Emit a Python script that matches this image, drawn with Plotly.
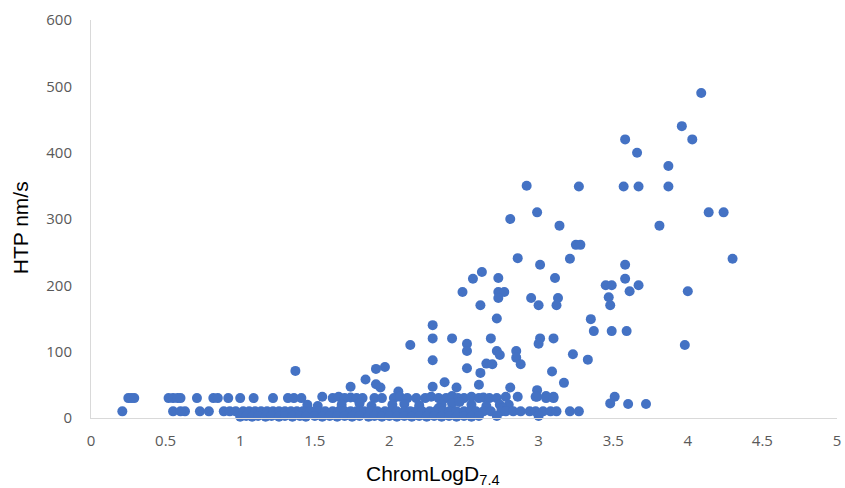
import plotly.graph_objects as go

# Upper / scattered points (ChromLogD7.4, HTP nm/s)
x_upper = [4.09, 3.96, 4.03, 3.58, 3.66, 3.87, 3.27, 3.57, 3.67, 3.87, 4.14, 4.24,
           3.14, 3.81, 3.25, 3.28, 3.21, 4.30, 3.58, 3.58, 3.45, 3.49, 3.67, 3.61,
           4.00, 3.47, 3.11, 3.13, 3.12, 3.48, 3.35, 3.37, 3.49, 3.59, 3.10, 3.98,
           3.23, 3.33, 3.09, 3.17, 3.10, 3.51, 3.48, 3.60, 3.72,
           2.86, 3.01, 2.56, 2.62, 2.73, 2.49, 2.73, 2.77, 2.73, 2.61, 2.95, 3.00,
           2.72, 2.29, 2.29, 2.42, 2.14, 2.52, 2.52, 2.68, 2.72, 2.74, 3.00, 3.01,
           2.85, 2.85, 2.88, 2.29, 2.52, 2.65, 2.69, 2.61, 1.91, 1.97, 1.84, 1.74,
           1.91, 1.94, 2.37, 2.29, 2.45, 2.60, 2.81, 2.99, 2.99, 3.05, 1.37, 2.06,
           2.92, 2.99, 2.81]
y_upper = [490, 440, 420, 420, 400, 380, 349, 349, 349, 349, 310, 310,
           290, 290, 261, 261, 240, 240, 231, 210, 200, 200, 200, 191,
           191, 182, 211, 181, 170, 170, 149, 131, 131, 131, 120, 110,
           96, 88, 70, 53, 32, 32, 22, 21, 21,
           241, 231, 210, 220, 211, 190, 190, 190, 181, 170, 181, 170,
           150, 140, 120, 120, 110, 112, 101, 120, 101, 95, 112, 120,
           101, 91, 81, 87, 75, 82, 81, 68, 74, 77, 58, 47,
           51, 46, 54, 47, 46, 50, 46, 42, 32, 33, 71, 40,
           350, 310, 300]

# Dense low band
x_r30 = [0.25, 0.27, 0.29, 0.52, 0.55, 0.58, 0.60, 0.71, 0.82, 0.85, 0.92, 1.00,
         1.09, 1.22, 1.32, 1.36, 1.41, 1.55, 1.62, 1.66, 1.70, 1.74, 1.78, 1.82,
         1.90, 1.95, 2.03, 2.07, 2.12, 2.18, 2.24, 2.28, 2.33, 2.38, 2.42, 2.46,
         2.50, 2.55, 2.60, 2.63, 2.67, 2.72, 2.78, 2.86, 2.98, 3.05, 3.10]
y_r30 = [30, 30, 30, 30, 30, 30, 30, 30, 30, 30, 30, 30,
         30, 30, 30, 30, 30, 32, 30, 32, 30, 31, 30, 30,
         30, 30, 30, 32, 30, 30, 30, 32, 30, 30, 33, 30,
         30, 32, 30, 31, 30, 30, 32, 32, 32, 30, 30]

x_r20 = [1.45, 1.52, 1.68, 1.80, 1.88, 2.02, 2.10, 2.20, 2.35, 2.42, 2.55, 2.65,
         2.74, 2.80, 2.76, 2.33, 2.47]
y_r20 = [20, 18, 20, 22, 18, 20, 21, 19, 20, 22, 20, 18,
         20, 20, 15, 15, 24]

x_r10 = [0.21, 0.55, 0.63, 0.73, 0.79, 0.89, 0.93, 0.97, 1.02, 1.06, 1.10, 1.14,
         1.18, 1.22, 1.26, 1.30, 1.34, 1.38, 1.42, 1.47, 1.52, 1.57, 1.62, 1.66,
         1.70, 1.74, 1.78, 1.83, 1.87, 1.92, 1.97, 2.01, 2.05, 2.10, 2.14, 2.18,
         2.22, 2.27, 2.31, 2.36, 2.40, 2.45, 2.50, 2.54, 2.58, 2.63, 2.68, 2.75,
         2.78, 2.83, 2.88, 2.94, 2.98, 3.03, 3.08, 3.12, 3.21, 3.27, 0.60]
y_r10 = [10, 10, 10, 10, 10, 10, 10, 10, 10, 10, 10, 10,
         10, 10, 10, 10, 10, 10, 10, 10, 10, 10, 10, 10,
         10, 10, 10, 10, 10, 10, 10, 10, 10, 10, 10, 10,
         10, 10, 10, 10, 10, 10, 10, 10, 10, 10, 10, 10,
         10, 10, 10, 10, 10, 10, 10, 10, 10, 10, 10]

x_r0 = [1.00, 1.04, 1.08, 1.12, 1.17, 1.21, 1.26, 1.30, 1.35, 1.40, 1.44, 1.50,
        1.55, 1.60, 1.65, 1.70, 1.75, 1.80, 1.86, 1.90, 1.95, 2.00, 2.05, 2.10,
        2.15, 2.20, 2.25, 2.30, 2.35, 2.40, 2.45, 2.50, 2.55, 2.60, 2.72, 3.00]
y_r0 = [2, 3, 2, 3, 2, 3, 2, 3, 2, 3, 2, 3,
        2, 3, 2, 3, 2, 3, 2, 3, 2, 3, 2, 3,
        2, 3, 2, 3, 2, 3, 2, 3, 2, 3, 3, 3]

xs = x_upper + x_r30 + x_r20 + x_r10 + x_r0
ys = y_upper + y_r30 + y_r20 + y_r10 + y_r0

x_ticks = [0, 0.5, 1, 1.5, 2, 2.5, 3, 3.5, 4, 4.5, 5]
y_ticks = [0, 100, 200, 300, 400, 500, 600]
x_title = "ChromLogD<sub>7.4</sub>"
y_title = "HTP nm/s"

fig = go.Figure(go.Scatter(
    x=xs, y=ys, mode="markers",
    marker=dict(size=10, color="#4472C4"),
    cliponaxis=False, hoverinfo="skip"))

tick_font = dict(family="Open Sans, Liberation Sans, sans-serif", size=15, color="#595959")
title_font = dict(family="Liberation Sans, Noto Sans, sans-serif", size=21, color="#000000")

fig.update_layout(
    width=845, height=488,
    margin=dict(l=91, r=8, t=20, b=70, autoexpand=False),
    paper_bgcolor="white", plot_bgcolor="white",
    showlegend=False,
    xaxis=dict(range=[0, 5], tickvals=x_ticks, ticktext=[f"{v:g}" for v in x_ticks],
               showgrid=False, zeroline=False, showline=True, linecolor="#d9d9d9",
               linewidth=1, ticks="", tickfont=tick_font, ticklabelstandoff=9,
               automargin=False),
    yaxis=dict(range=[0, 600], tickvals=y_ticks, ticktext=[str(v) for v in y_ticks],
               showgrid=False, zeroline=False, showline=True, linecolor="#d9d9d9",
               linewidth=1, ticks="", tickfont=tick_font, ticklabelstandoff=15,
               automargin=False),
    annotations=[
        dict(text=x_title, xref="paper", yref="paper", x=0.458, y=-0.143,
             xanchor="center", yanchor="middle", showarrow=False, font=title_font),
        dict(text=y_title, xref="paper", yref="paper", x=-0.095, y=0.477,
             xanchor="center", yanchor="middle", showarrow=False, font=title_font,
             textangle=-90),
    ],
)

fig.write_html("out.html")
